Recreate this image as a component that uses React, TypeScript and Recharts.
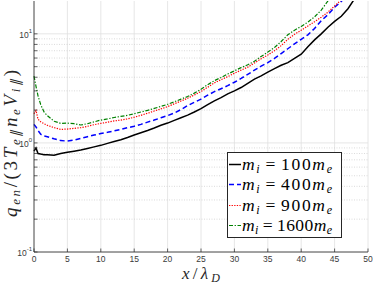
import { CartesianGrid, Legend, Line, LineChart, ReferenceLine, XAxis, YAxis } from "recharts";

// q_en / (3 T_e|| n_e V_i||) against x / lambda_D, four ion masses, log y axis

const X_POS = [
  0, 0.3, 0.6, 1, 1.5, 2, 3, 4, 5, 6, 7, 8, 9, 10, 11, 12, 13, 14, 15, 16, 17, 18, 19, 20, 21, 22, 23, 24, 25, 26,
  27, 28, 29, 30, 31, 32, 33, 34, 35, 36, 37, 38, 39, 40, 41, 42, 43, 44, 45, 46, 47, 48, 49, 50,
];

const Q_M100 = [
  0.84, 0.9, 0.8, 0.79, 0.78, 0.78, 0.77, 0.8, 0.82, 0.84, 0.86, 0.89, 0.92, 0.95, 0.99, 1.03, 1.07, 1.12, 1.18, 1.24,
  1.3, 1.37, 1.45, 1.52, 1.61, 1.7, 1.8, 1.92, 2.06, 2.24, 2.43, 2.6, 2.82, 3.0, 3.22, 3.52, 3.85, 4.12, 4.45, 4.8,
  5.15, 5.45, 5.95, 6.5, 7.6, 8.8, 10.0, 11.5, 13.0, 14.5, 17.0, 21.0, 24.5, 28.5,
];

const Q_M400 = [
  1.48, 1.4, 1.3, 1.2, 1.16, 1.14, 1.09, 1.05, 1.04, 1.06, 1.1, 1.14, 1.18, 1.22, 1.25, 1.29, 1.33, 1.38, 1.42, 1.48,
  1.55, 1.62, 1.7, 1.78, 1.88, 2.02, 2.2, 2.36, 2.52, 2.74, 2.95, 3.14, 3.35, 3.6, 3.9, 4.25, 4.65, 5.05, 5.45, 5.95,
  6.6, 7.3, 8.1, 8.9, 9.8, 11.2, 13.2, 15.0, 17.5, 19.8, 23.5, 27, 31, 35,
];

const Q_M900 = [
  1.85, 1.98, 1.65, 1.56, 1.5, 1.45, 1.38, 1.33, 1.34, 1.36, 1.38, 1.42, 1.47, 1.51, 1.55, 1.59, 1.62, 1.66, 1.72, 1.79,
  1.87, 1.96, 2.05, 2.15, 2.28, 2.42, 2.57, 2.75, 2.96, 3.24, 3.55, 3.8, 4.05, 4.35, 4.65, 4.95, 5.4, 5.9, 6.4, 7.0,
  7.8, 8.9, 9.9, 10.8, 11.8, 12.9, 14.2, 15.8, 18.0, 20.5, 24, 28, 32, 37,
];

const Q_M1600 = [
  4.1, 3.3, 2.7, 2.25, 1.92, 1.78, 1.58, 1.51, 1.52, 1.5, 1.46, 1.5, 1.56, 1.62, 1.66, 1.71, 1.75, 1.79, 1.85, 1.92,
  1.99, 2.07, 2.16, 2.26, 2.38, 2.52, 2.66, 2.86, 3.1, 3.42, 3.72, 3.98, 4.28, 4.58, 4.9, 5.2, 5.6, 6.2, 6.8, 7.5, 8.5,
  9.8, 10.8, 11.7, 12.8, 14.3, 16.5, 20, 24, 28, 32, 36, 40, 45,
];

const X_TICKS = [0, 5, 10, 15, 20, 25, 30, 35, 40, 45, 50];
const Y_MAJOR = [0.1, 1, 10];
const Y_MINOR = [0.2, 0.3, 0.4, 0.5, 0.6, 0.7, 0.8, 0.9, 2, 3, 4, 5, 6, 7, 8, 9];

const SERIES = [
  { key: "m100", mass: "100", color: "#000000", width: 1.5, dash: undefined as string | undefined },
  { key: "m400", mass: "400", color: "#0000ff", width: 1.5, dash: "5 3" },
  { key: "m900", mass: "900", color: "#ff0000", width: 1.2, dash: "1.3 1.3" },
  { key: "m1600", mass: "1600", color: "#008000", width: 1.2, dash: "4 1.6 1.3 1.6" },
];

const data = X_POS.map((x, i) => ({
  x,
  m100: Q_M100[i],
  m400: Q_M400[i],
  m900: Q_M900[i],
  m1600: Q_M1600[i],
}));

const AXIS = "#262626";
const TICK_TEXT = "#3a3a3a";
const SANS = "'Liberation Sans', Arial, sans-serif";
const SERIF = "'Liberation Serif', 'Times New Roman', serif";
const TICK_LEN = 3.5;

function BottomTick({ x, y, payload }: any) {
  return (
    <g>
      <line x1={x} x2={x} y1={y} y2={y - TICK_LEN} stroke={AXIS} strokeWidth={0.7} />
      <text x={x} y={y + 10} textAnchor="middle" fontSize={8.5} fill={TICK_TEXT} fontFamily={SANS}>
        {payload.value}
      </text>
    </g>
  );
}

function TopTick({ x, y }: any) {
  return <line x1={x} x2={x} y1={y} y2={y + TICK_LEN} stroke={AXIS} strokeWidth={0.7} />;
}

function LeftTick({ x, y, payload }: any) {
  const v = payload.value as number;
  const major = Y_MAJOR.some((m) => Math.abs(m - v) < 1e-9);
  return (
    <g>
      <line x1={x} x2={x + TICK_LEN} y1={y} y2={y} stroke={AXIS} strokeWidth={0.7} />
      {major && (
        <text x={x - 2} y={y + 4} textAnchor="end" fontSize={8.5} fill={TICK_TEXT} fontFamily={SANS}>
          10
          <tspan fontSize={6} dy={-5}>
            {Math.round(Math.log10(v))}
          </tspan>
        </text>
      )}
    </g>
  );
}

function RightTick({ x, y }: any) {
  return <line x1={x} x2={x - TICK_LEN} y1={y} y2={y} stroke={AXIS} strokeWidth={0.7} />;
}

function YTitle({ viewBox }: any) {
  const cx = viewBox.x + 17;
  const cy = viewBox.y + viewBox.height / 2 + 17;
  return (
    <text
      x={cx}
      y={cy}
      transform={`rotate(-90 ${cx} ${cy})`}
      textAnchor="middle"
      fontFamily={SERIF}
      fontSize={19}
      fill={AXIS}
      textLength={147}
      lengthAdjust="spacing"
    >
      <tspan fontStyle="italic">q</tspan>
      <tspan fontStyle="italic" fontSize={13} dy={3}>en</tspan>
      <tspan dy={-3}>/(3</tspan>
      <tspan fontStyle="italic">T</tspan>
      <tspan fontStyle="italic" fontSize={13} dy={3}>e∥</tspan>
      <tspan fontStyle="italic" dy={-3}>n</tspan>
      <tspan fontStyle="italic" fontSize={13} dy={3}>e</tspan>
      <tspan fontStyle="italic" dy={-3}>V</tspan>
      <tspan fontStyle="italic" fontSize={13} dy={3}>i∥</tspan>
      <tspan dy={-3}>)</tspan>
    </text>
  );
}

function XTitle({ viewBox }: any) {
  const cx = viewBox.x + viewBox.width / 2;
  const cy = viewBox.y + 27;
  return (
    <text x={cx} y={cy} textAnchor="middle" fontFamily={SERIF} fontSize={17} fill={AXIS} textLength={38} lengthAdjust="spacing">
      <tspan fontStyle="italic">x</tspan>
      <tspan>/</tspan>
      <tspan fontStyle="italic">λ</tspan>
      <tspan fontStyle="italic" fontSize={12} dy={3}>D</tspan>
    </text>
  );
}

function LegendBox() {
  return (
    <div style={{ border: `1px solid ${AXIS}`, background: "#fff", width: 113, padding: "1px 0 2px 0" }}>
      {SERIES.map((s) => (
        <svg key={s.key} width={113} height={20.3} style={{ display: "block" }}>
          <line x1={1} x2={13} y1={10.5} y2={10.5} stroke={s.color} strokeWidth={s.width} strokeDasharray={s.dash} />
          <text x={14} y={15.5} fontFamily={SERIF} fontSize={17.5} fill="#000" textLength={90} lengthAdjust="spacing">
            <tspan fontStyle="italic">m</tspan>
            <tspan fontStyle="italic" fontSize={12} dy={3}>i</tspan>
            <tspan dy={-3} dx={4}>=</tspan>
            <tspan dx={4}>{s.mass}</tspan>
            <tspan fontStyle="italic">m</tspan>
            <tspan fontStyle="italic" fontSize={12} dy={3}>e</tspan>
          </text>
        </svg>
      ))}
    </div>
  );
}

export default function App() {
  return (
    <div style={{ position: "absolute", left: 0, top: 0, width: 374, height: 285, background: "#fff" }}>
      <LineChart width={374} height={285} data={data} margin={{ top: 1, right: 6, bottom: 0, left: 0 }}>
        <CartesianGrid horizontal={false} stroke="#dfdfdf" strokeWidth={0.8} />
        {Y_MINOR.map((v) => (
          <ReferenceLine key={`mn${v}`} y={v} stroke="#cccccc" strokeWidth={0.7} strokeDasharray="1 1.5" />
        ))}
        {Y_MAJOR.map((v) => (
          <ReferenceLine key={`mj${v}`} y={v} stroke="#dfdfdf" strokeWidth={0.8} />
        ))}
        <XAxis
          type="number"
          dataKey="x"
          domain={[0, 50]}
          ticks={X_TICKS}
          interval={0}
          height={33}
          tickSize={0}
          tickMargin={0}
          tick={<BottomTick />}
          axisLine={{ stroke: AXIS, strokeWidth: 0.8 }}
          label={{ content: (p: any) => <XTitle {...p} /> }}
        />
        <XAxis
          xAxisId="top"
          orientation="top"
          type="number"
          dataKey="x"
          domain={[0, 50]}
          ticks={X_TICKS}
          interval={0}
          height={0}
          tickSize={0}
          tickMargin={0}
          tick={<TopTick />}
          axisLine={{ stroke: AXIS, strokeWidth: 0.8 }}
        />
        <YAxis
          type="number"
          scale="log"
          domain={[0.1, 20]}
          allowDataOverflow
          ticks={[...Y_MAJOR, ...Y_MINOR]}
          interval={0}
          width={34}
          tickSize={0}
          tickMargin={0}
          tick={<LeftTick />}
          axisLine={{ stroke: AXIS, strokeWidth: 0.8 }}
          label={{ content: (p: any) => <YTitle {...p} /> }}
        />
        <YAxis
          yAxisId="right"
          orientation="right"
          type="number"
          scale="log"
          domain={[0.1, 20]}
          allowDataOverflow
          ticks={[...Y_MAJOR, ...Y_MINOR]}
          interval={0}
          width={0}
          tickSize={0}
          tickMargin={0}
          tick={<RightTick />}
          axisLine={{ stroke: AXIS, strokeWidth: 0.8 }}
        />
        {SERIES.map((s) => (
          <Line
            key={s.key}
            type="linear"
            dataKey={s.key}
            stroke={s.color}
            strokeWidth={s.width}
            strokeDasharray={s.dash}
            dot={false}
            activeDot={false}
            isAnimationActive={false}
          />
        ))}
        <Legend
          layout="vertical"
          align="center"
          verticalAlign="middle"
          content={() => <LegendBox />}
          wrapperStyle={{ left: 227, top: 152, width: 115 }}
        />
      </LineChart>
    </div>
  );
}
